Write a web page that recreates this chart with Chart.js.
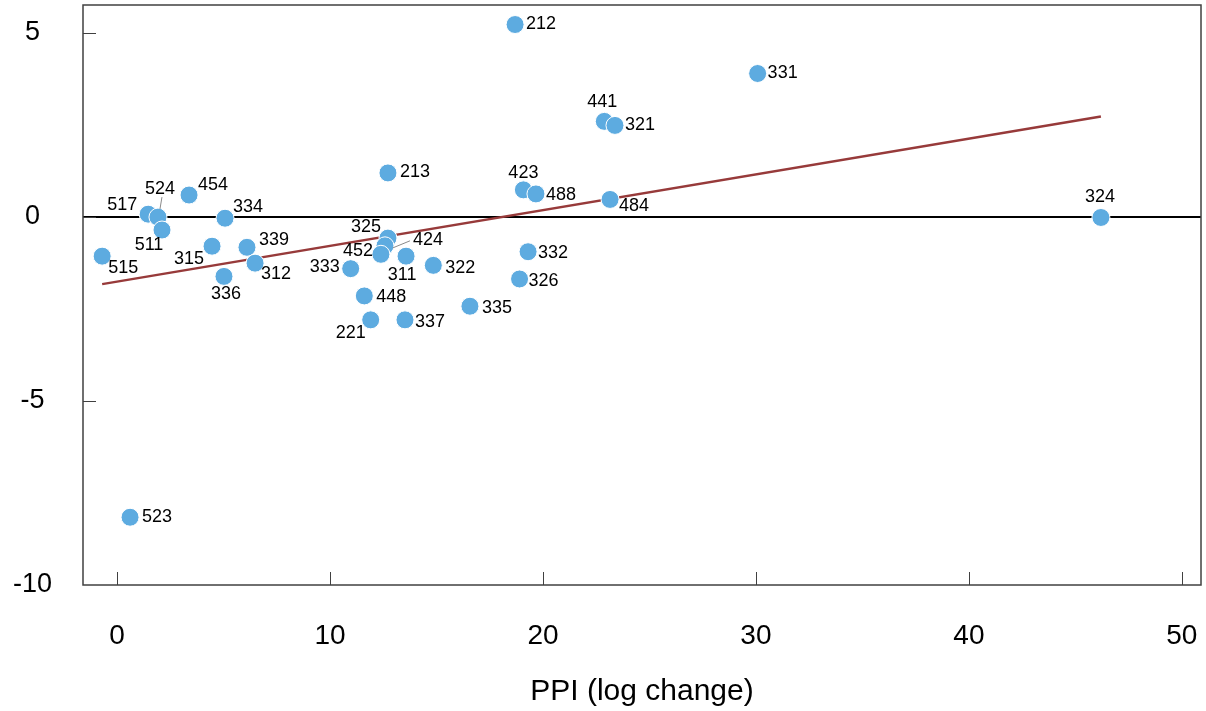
<!DOCTYPE html>
<html>
<head>
<meta charset="utf-8">
<script src="https://cdn.jsdelivr.net/npm/chart.js@4.4.1/dist/chart.umd.min.js"></script>
<style>
    html, body { margin: 0; padding: 0; background: #fff; }
    #wrap { width: 1206px; height: 711px; }
</style>
</head>
<body>
<div id="wrap"><canvas id="ppiChart" width="1206" height="711"></canvas></div>
<script>
// industry codes and their values
var codes = ['515', '517', '524', '511', '454', '334', '315', '339', '312', '336',
    '213', '325', '424', '452', '311', '333', '448', '221', '337', '322',
    '335', '332', '326', '212', '331', '441', '321', '423', '488', '484',
    '324', '523'];
var ppiChange = [-0.70, 1.46, 1.92, 2.11, 3.38, 5.07, 4.46, 6.10, 6.48, 5.02,
    12.72, 12.72, 12.58, 12.39, 13.57, 10.97, 11.61, 11.91, 13.52, 14.85,
    16.57, 19.30, 18.90, 18.69, 30.08, 22.88, 23.38, 19.08, 19.67, 23.15,
    46.20, 0.61];
var yChange = [-1.07, 0.07, -0.01, -0.36, 0.59, -0.04, -0.80, -0.83, -1.26, -1.62,
    1.19, -0.58, -0.79, -1.02, -1.07, -1.41, -2.15, -2.80, -2.80, -1.32,
    -2.43, -0.95, -1.69, 5.22, 3.89, 2.59, 2.48, 0.73, 0.62, 0.47,
    -0.02, -8.16];

// fitted line end points
var trendX = [-0.70, 46.20];
var trendY = [-1.83, 2.72];

var xTicks = [0, 10, 20, 30, 40, 50];
var yTicks = [-10, -5, 0, 5];

// where each label sits relative to its dot (px)
var labelOffsets = {
    '515': [21, 12], '517': [-26, -9], '524': [2, -28], '511': [-13, 15],
    '454': [24, -10], '334': [23, -11], '315': [-23, 13], '339': [27, -7],
    '312': [21, 11], '336': [2, 18], '213': [27, -1], '325': [-22, -11],
    '424': [43, -6], '452': [-23, -3], '311': [-4, 19], '333': [-26, -2],
    '448': [27, 1], '221': [-20, 13], '337': [25, 2], '322': [27, 3],
    '335': [27, 2], '332': [25, 1], '326': [24, 2], '212': [26, 0],
    '331': [25, 0], '441': [-2, -19], '321': [25, 0], '423': [0, -17],
    '488': [25, 1], '484': [24, 7], '324': [-1, -20], '523': [27, 0]
};
// leader lines: [x1, y1, x2, y2] relative to the dot
var leaders = {
    '524': [4, -20, 2, -8],
    '424': [8, 2, 25, -5]
};

var FONT = '"Liberation Sans", Arial, sans-serif';

var points = ppiChange.map(function(x, i) {
    return { x: x, y: yChange[i] };
});
var trend = trendX.map(function(x, i) {
    return { x: x, y: trendY[i] };
});

var pointLabels = {
    id: 'pointLabels',
    afterDatasetsDraw: function(chart) {
        var ctx = chart.ctx;
        var meta = chart.getDatasetMeta(0);
        ctx.save();
        ctx.strokeStyle = '#8a8a8a';
        ctx.lineWidth = 1;
        meta.data.forEach(function(el, i) {
            var lead = leaders[codes[i]];
            if (lead) {
                ctx.beginPath();
                ctx.moveTo(el.x + lead[0], el.y + lead[1]);
                ctx.lineTo(el.x + lead[2], el.y + lead[3]);
                ctx.stroke();
            }
        });
        ctx.fillStyle = '#000';
        ctx.font = '18px ' + FONT;
        ctx.textAlign = 'center';
        ctx.textBaseline = 'middle';
        meta.data.forEach(function(el, i) {
            var off = labelOffsets[codes[i]] || [25, 0];
            ctx.fillText(codes[i], el.x + off[0], el.y + off[1]);
        });
        ctx.restore();
    }
};

var frame = {
    id: 'frame',
    afterDraw: function(chart) {
        var ctx = chart.ctx;
        var a = chart.chartArea;
        var xs = chart.scales.x;
        var ys = chart.scales.y;
        ctx.save();
        ctx.strokeStyle = '#404040';
        ctx.lineWidth = 1;
        xTicks.forEach(function(v) {
            var px = Math.round(xs.getPixelForValue(v)) + 0.5;
            ctx.beginPath();
            ctx.moveTo(px, a.bottom);
            ctx.lineTo(px, a.bottom - 13);
            ctx.stroke();
        });
        yTicks.forEach(function(v) {
            if (v === ys.min) return;
            var py = Math.round(ys.getPixelForValue(v)) + 0.5;
            ctx.beginPath();
            ctx.moveTo(a.left, py);
            ctx.lineTo(a.left + 13, py);
            ctx.stroke();
        });
        ctx.lineWidth = 1.5;
        ctx.strokeRect(a.left, a.top, a.right - a.left, a.bottom - a.top);
        ctx.restore();
    }
};

var CHART = document.getElementById('ppiChart');
var ppiChart = new Chart(CHART, {
    type: 'scatter',
    data: {
        datasets: [{
            label: 'Industries',
            data: points,
            backgroundColor: '#5DABE0',
            borderColor: '#ffffff',
            borderWidth: 1,
            pointRadius: 9,
            pointHoverRadius: 9
        }, {
            type: 'line',
            label: 'Fit',
            data: trend,
            borderColor: '#973A3A',
            borderWidth: 2.5,
            pointRadius: 0,
            fill: false
        }]
    },
    options: {
        responsive: false,
        animation: false,
        layout: { autoPadding: false, padding: { top: 5, right: 5, left: 0, bottom: 0 } },
        plugins: {
            legend: { display: false },
            tooltip: { enabled: false }
        },
        scales: {
            x: {
                type: 'linear',
                min: -1.6,
                max: 50.9,
                afterFit: function(scale) {
                    scale.height = 126;
                    scale.paddingLeft = 0;
                    scale.paddingRight = 0;
                },
                afterBuildTicks: function(scale) {
                    scale.ticks = xTicks.map(function(v) { return { value: v }; });
                },
                grid: { display: false },
                border: { display: false },
                ticks: {
                    padding: 26,
                    color: '#000',
                    font: { family: FONT, size: 28 }
                },
                title: {
                    display: true,
                    text: 'PPI (log change)',
                    color: '#000',
                    font: { family: FONT, size: 30 },
                    padding: { top: 0, bottom: 1 }
                }
            },
            y: {
                type: 'linear',
                min: -10,
                max: 5.75,
                afterFit: function(scale) {
                    scale.width = 83;
                    scale.paddingTop = 0;
                    scale.paddingBottom = 0;
                },
                afterBuildTicks: function(scale) {
                    scale.ticks = yTicks.map(function(v) { return { value: v }; });
                },
                grid: {
                    drawTicks: false,
                    lineWidth: 2,
                    color: function(c) {
                        return c.tick && c.tick.value === 0 ? '#000' : 'rgba(0,0,0,0)';
                    }
                },
                border: { display: false },
                ticks: {
                    padding: 31,
                    crossAlign: 'center',
                    color: '#000',
                    font: { family: FONT, size: 27 }
                }
            }
        }
    },
    plugins: [pointLabels, frame]
});
</script>
</body>
</html>
